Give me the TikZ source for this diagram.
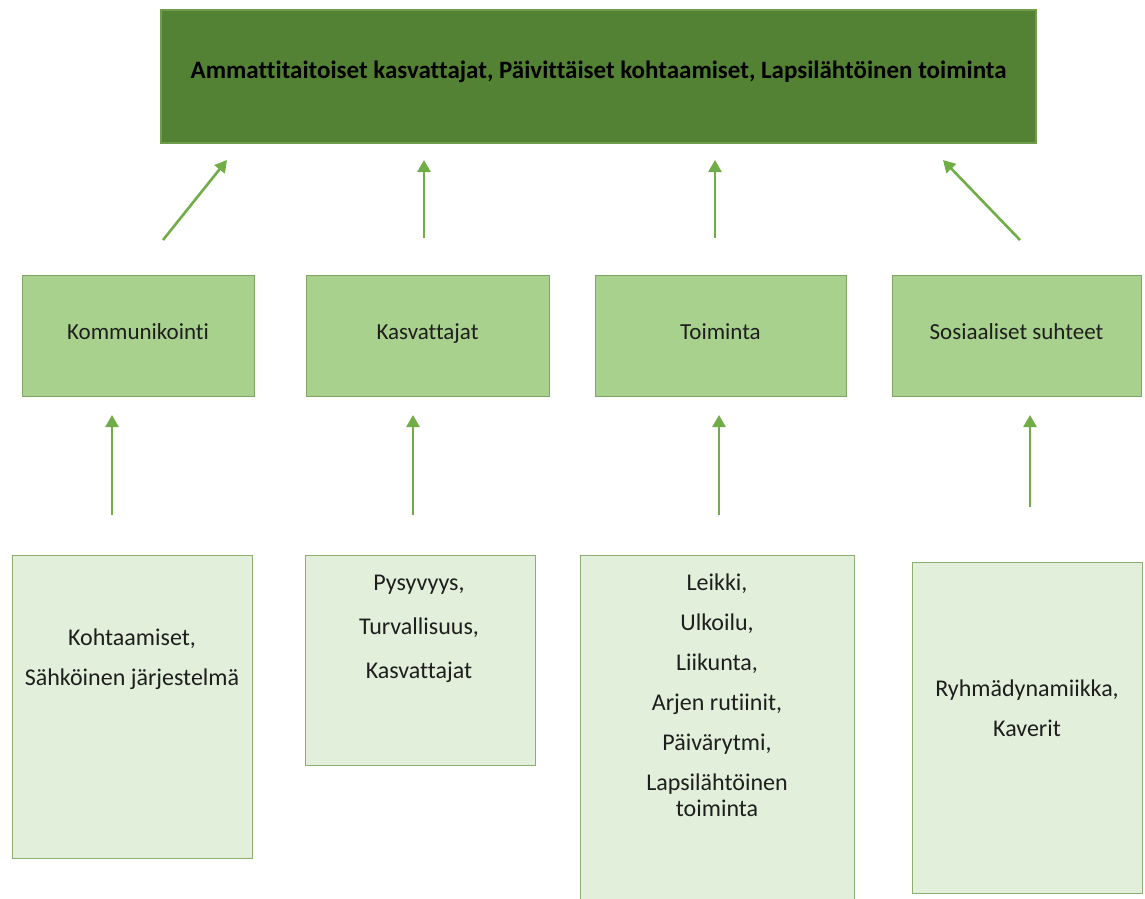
\documentclass[tikz,border=0pt]{standalone}
\usepackage{fontspec}
\setmainfont{Carlito}[Ligatures=NoCommon]
\usetikzlibrary{arrows.meta}
\definecolor{topfill}{HTML}{548235}
\definecolor{topdraw}{HTML}{6E9E4C}
\definecolor{midfill}{HTML}{A9D18E}
\definecolor{middraw}{HTML}{80A564}
\definecolor{lowfill}{HTML}{E2EFDA}
\definecolor{lowdraw}{HTML}{8DAE70}
\definecolor{arrowc}{HTML}{70AD47}
\definecolor{txt}{HTML}{1E1E1E}
\begin{document}
\begin{tikzpicture}[x=1pt,y=-1pt,
  topbox/.style={draw=topdraw,line width=1.2pt,fill=topfill,minimum width=875pt,minimum height=133pt,
    font=\fontsize{25}{29}\selectfont\bfseries,text=black,text depth=14pt},
  midbox/.style={draw=middraw,line width=1pt,fill=midfill,minimum height=121pt,
    font=\fontsize{23}{27}\selectfont,text=txt,text depth=8pt},
  lowbox/.style={draw=lowdraw,line width=1pt,fill=lowfill},
  lowtext/.style={font=\fontsize{24}{26}\selectfont,text=txt,align=center},
  arr/.style={draw=arrowc,line width=2.6pt,-{Triangle[length=12pt,width=13pt]}}]
\useasboundingbox (0,0) rectangle (1145,898);
\clip (0,0) rectangle (1145,898);

% top box
\node[topbox] (top) at (598.5,76.5) {Ammattitaitoiset kasvattajat, Päivittäiset kohtaamiset, Lapsilähtöinen toiminta};

% middle boxes
\node[midbox,minimum width=232pt] (m1) at (138,335.5) {Kommunikointi};
\node[midbox,minimum width=243pt] (m2) at (427.5,335.5) {Kasvattajat};
\node[midbox,minimum width=251pt] (m3) at (720.5,335.5) {Toiminta};
\node[midbox,minimum width=249pt] (m4) at (1016.5,335.5) {Sosiaaliset suhteet};

% bottom boxes
\node[lowbox,minimum width=240pt,minimum height=303pt] (b1) at (132,706.5) {};
\node[lowbox,minimum width=230pt,minimum height=210pt] (b2) at (420,660) {};
\node[lowbox,minimum width=274pt,minimum height=360pt] (b3) at (717,735) {};
\node[lowbox,minimum width=230pt,minimum height=331pt] (b4) at (1027,727.5) {};

\node[lowtext] (t1) at (132,659) {Kohtaamiset,\\[14pt] Sähköinen järjestelmä};
\node[lowtext] (t2) at (419,629) {Pysyvyys,\\[18pt] Turvallisuus,\\[18pt] Kasvattajat};
\node[lowtext] (t3) at (717,695) {Leikki,\\[14pt] Ulkoilu,\\[14pt] Liikunta,\\[14pt] Arjen rutiinit,\\[14pt] Päivärytmi,\\[14pt] Lapsilähtöinen\\ toiminta};
\node[lowtext] (t4) at (1027,708) {Ryhmädynamiikka,\\[14pt] Kaverit};

% arrow end points
\coordinate (a1s) at (163,240); \coordinate (a1e) at (227,160);
\coordinate (a2s) at (424,238); \coordinate (a2e) at (424,160);
\coordinate (a3s) at (715,238); \coordinate (a3e) at (715,160);
\coordinate (a4s) at (1020,240); \coordinate (a4e) at (943,160);
\coordinate (c1s) at (112,515); \coordinate (c1e) at (112,415);
\coordinate (c2s) at (413,515); \coordinate (c2e) at (413,415);
\coordinate (c3s) at (719,515); \coordinate (c3e) at (719,415);
\coordinate (c4s) at (1030,507); \coordinate (c4e) at (1030,415);

\draw[arr] (a1s) -- (a1e);
\draw[arr] (a2s) -- (a2e);
\draw[arr] (a3s) -- (a3e);
\draw[arr] (a4s) -- (a4e);
\draw[arr] (c1s) -- (c1e);
\draw[arr] (c2s) -- (c2e);
\draw[arr] (c3s) -- (c3e);
\draw[arr] (c4s) -- (c4e);
\end{tikzpicture}
\end{document}
